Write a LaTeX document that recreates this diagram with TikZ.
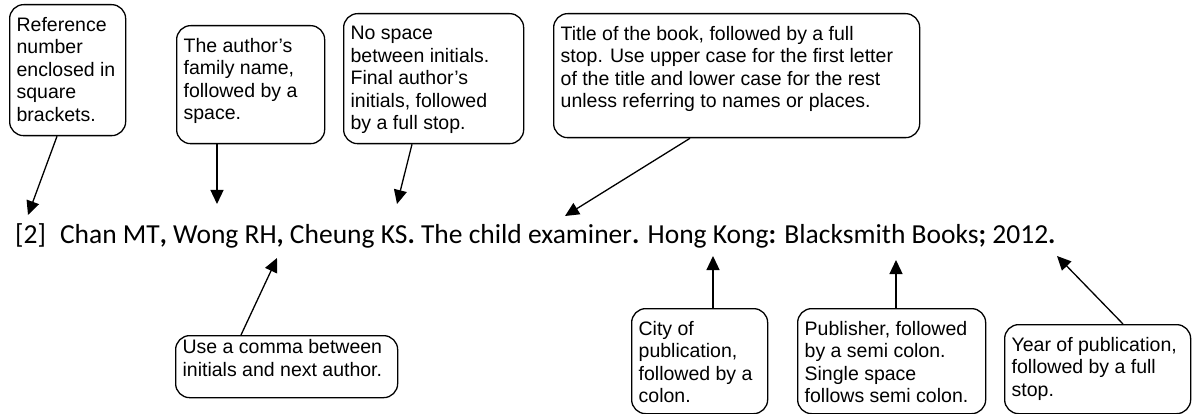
\documentclass[tikz,border=0pt]{standalone}
\usepackage{fontspec}
\setmainfont{Liberation Sans}
\newfontfamily\citefont{Carlito}
\usetikzlibrary{arrows.meta,calc}
\tikzset{
  note/.style={draw, line width=1.3pt, rounded corners=14pt, inner xsep=7pt, inner ysep=0pt,
    anchor=north west, font=\fontsize{19.5}{22.5}\selectfont},
  pointer/.style={line width=1.3pt, -{Triangle[length=14pt,width=13pt]}},
}
\newcommand\notetext[4][12.5pt]{\parbox[t][#3][t]{#2}{\raggedright\vspace*{#1}#4}}
\begin{document}
\begin{tikzpicture}[x=1pt,y=-1pt]
\useasboundingbox (0,0) rectangle (1193,414);
% top notes
\node[note] (b1) at (9,4)   {\notetext{102pt}{131pt}{Reference\\number\\enclosed in\\square\\brackets.}};
\node[note] (b2) at (176,25){\notetext{134pt}{118pt}{The author’s\\family name,\\followed by a\\space.}};
\node[note] (b3) at (343,13){\notetext{166pt}{130pt}{No space\\between initials.\\Final author’s\\initials, followed\\by a full stop.}};
\node[note] (b4) at (553,13){\notetext{352pt}{124pt}{Title of the book, followed by a full\\stop. Use upper case for the first letter\\of the title and lower case for the rest\\unless referring to names or places.}};
% bottom notes
\node[note] (b5) at (175,335){\notetext[4pt]{208pt}{62pt}{Use a comma between\\initials and next author.}};
\node[note] (b6) at (631,308){\notetext{122pt}{105pt}{City of\\publication,\\followed by a\\colon.}};
\node[note] (b7) at (797,308){\notetext{174pt}{105pt}{Publisher, followed\\by a semi colon.\\Single space\\follows semi colon.}};
\node[note] (b8) at (1004,324){\notetext{172pt}{89pt}{Year of publication,\\followed by a full\\stop.}};
% citation
\node[anchor=base west, inner sep=0pt, font=\citefont\fontsize{27.5}{30}\selectfont] (cit) at (15,243)
  {[2]\hspace{14pt}Chan MT\textbf{,} Wong RH\textbf{,} Cheung KS\textbf{.} The child examiner\textbf{.} Hong Kong\textbf{:} Blacksmith Books\textbf{;} 2012\textbf{.}};
% targets
\coordinate (t1) at (28,215);
\coordinate (t2) at (217,204);
\coordinate (t3) at (397,204);
\coordinate (t4) at (565,216);
\coordinate (t5) at (277,258);
\coordinate (t6) at (713,256);
\coordinate (t7) at (896,260);
\coordinate (t8) at (1057,256);
% connectors
\draw[pointer] ([xshift=48pt]b1.south west) -- (t1);
\draw[pointer] ([xshift=41pt]b2.south west) -- (t2);
\draw[pointer] ([xshift=69pt]b3.south west) -- (t3);
\draw[pointer] ([xshift=137pt]b4.south west) -- (t4);
\draw[pointer] ([xshift=66pt]b5.north west) -- (t5);
\draw[pointer] ([xshift=82pt]b6.north west) -- (t6);
\draw[pointer] ([xshift=99pt]b7.north west) -- (t7);
\draw[pointer] ([xshift=119pt]b8.north west) -- (t8);
\end{tikzpicture}
\end{document}
